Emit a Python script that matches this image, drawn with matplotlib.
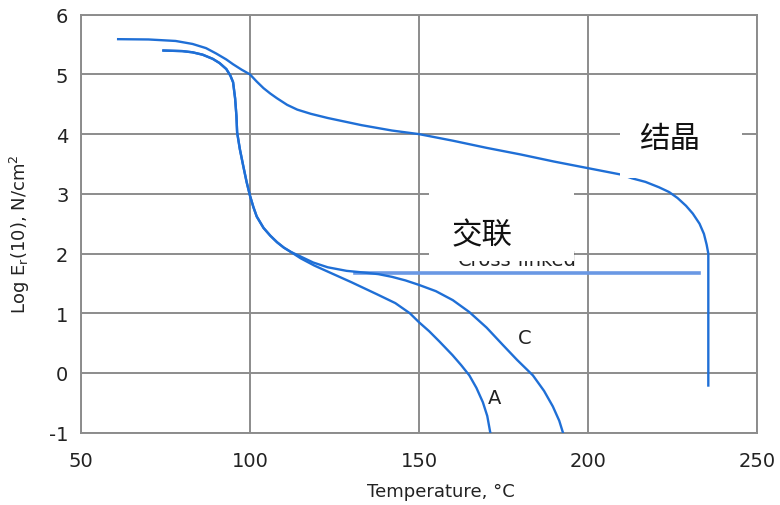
import matplotlib as mpl

mpl.use("Agg")
import matplotlib.pyplot as plt  # noqa: E402
from matplotlib.patches import Rectangle  # noqa: E402

plt.rcParams.update({
    "font.family": ["DejaVu Sans"],
    "font.size": 14,
    "axes.linewidth": 1.4,
    "axes.unicode_minus": False,
})

GRID = "#8c8c8c"
BLUE = "#1f6fd6"
LIGHT = "#6a98e4"
TEXT = "#222222"

# crystalline polymer (upper curve)
cryst_t = [61, 70, 78, 83, 87, 90, 93, 95, 97.5, 100, 102, 104, 106, 108, 111,
           114, 118, 123, 128, 133, 142, 150, 160, 170, 180, 190, 200, 210,
           213, 217, 221, 224, 226.5, 229, 231, 233, 234.3, 235.1, 235.6, 235.6]
cryst_e = [5.59, 5.585, 5.56, 5.51, 5.44, 5.35, 5.25, 5.17, 5.08, 5.00, 4.88,
           4.77, 4.68, 4.60, 4.49, 4.41, 4.34, 4.27, 4.21, 4.15, 4.06, 4.00,
           3.89, 3.77, 3.66, 3.54, 3.43, 3.32, 3.26, 3.20, 3.11, 3.03, 2.93,
           2.80, 2.67, 2.50, 2.33, 2.15, 2.00, -0.21]

# amorphous A
a_t = [74.4, 80, 83, 86, 89, 91, 93, 94.2, 95, 95.6, 96.0, 96.2, 97, 98, 99,
       100, 101, 102, 104, 106, 108, 110, 112, 115, 119, 123.7, 130, 137.5,
       143, 147.3, 150, 153, 156, 159.9, 162.5, 164.9, 167, 168.9, 170.2, 171.1]
a_e = [5.40, 5.39, 5.37, 5.33, 5.26, 5.19, 5.09, 4.98, 4.87, 4.60, 4.30, 4.03,
       3.75, 3.47, 3.20, 2.97, 2.78, 2.62, 2.43, 2.30, 2.19, 2.10, 2.03, 1.92,
       1.80, 1.68, 1.52, 1.32, 1.17, 1.00, 0.85, 0.70, 0.53, 0.30, 0.13, -0.04,
       -0.25, -0.49, -0.72, -1.00]

# amorphous C (shares the start of A up to ~112 °C)
c_t = [74.4, 80, 83, 86, 89, 91, 93, 94.2, 95, 95.6, 96.0, 96.2, 97, 98, 99,
       100, 101, 102, 104, 106, 108, 110, 112, 115, 118.7, 123, 128.6, 134,
       138, 142, 146, 150, 155, 160, 164.9, 170, 174.8, 179, 183.7, 187, 189.6,
       191.5, 192.6]
c_e = [5.40, 5.39, 5.37, 5.33, 5.26, 5.19, 5.09, 4.98, 4.87, 4.60, 4.30, 4.03,
       3.75, 3.47, 3.20, 2.97, 2.78, 2.62, 2.43, 2.30, 2.19, 2.10, 2.03, 1.95,
       1.85, 1.77, 1.71, 1.68, 1.655, 1.61, 1.55, 1.475, 1.37, 1.22, 1.02,
       0.76, 0.47, 0.22, -0.04, -0.30, -0.56, -0.80, -1.00]

# cross-linked plateau
xl_t = [131, 232.8]
xl_e = [1.67, 1.67]

x_ticks = [50, 100, 150, 200, 250]
y_ticks = [-1, 0, 1, 2, 3, 4, 5, 6]

fig = plt.figure(figsize=(7.8, 5.06), dpi=100)
ax = fig.add_axes([0.1038, 0.1429, 0.8667, 0.8261])

ax.plot(cryst_t, cryst_e, color=BLUE, lw=1.7, zorder=3)
ax.plot(a_t, a_e, color=BLUE, lw=1.7, zorder=3)
ax.plot(c_t, c_e, color=BLUE, lw=1.7, zorder=3)
ax.plot(xl_t, xl_e, color=LIGHT, lw=2.6, zorder=2.9)

ax.text(181.4, 0.59, "C", ha="center", va="center", color=TEXT, fontsize=14)
ax.text(172.3, -0.41, "A", ha="center", va="center", color=TEXT, fontsize=14)

# original English label, mostly covered by the pasted Chinese box
ax.text(161.5, 1.80, "Cross-linked", ha="left", va="baseline",
        color=TEXT, fontsize=14, zorder=4)
ax.add_patch(Rectangle((153.0, 1.87), 42.8, 1.43, facecolor="white",
                       edgecolor="none", zorder=5))
ax.add_patch(Rectangle((209.5, 3.26), 36.0, 1.34, facecolor="white",
                       edgecolor="none", zorder=5))
ax.text(168.6, 2.31, "交联", ha="center", va="center", fontsize=22,
        family=["Noto Sans CJK SC", "DejaVu Sans"], color="#111111",
        fontweight="light", zorder=6)
ax.text(224.2, 3.93, "结晶", ha="center", va="center", fontsize=22,
        family=["Noto Sans CJK SC", "DejaVu Sans"], color="#111111",
        fontweight="light", zorder=6)

ax.set_xlim(50, 250)
ax.set_ylim(-1, 6)
ax.set_xticks(x_ticks)
ax.set_yticks(y_ticks)
ax.grid(True, color=GRID, lw=1.4)
ax.set_axisbelow(True)
for sp in ax.spines.values():
    sp.set_color(GRID)
ax.tick_params(length=0, labelsize=14, labelcolor=TEXT)
ax.tick_params(axis="x", pad=13)
ax.tick_params(axis="y", pad=9)

ax.set_xlabel("Temperature, °C", fontsize=13, color=TEXT)
ax.xaxis.set_label_coords(0.533, -0.118)
ax.set_ylabel(r"Log E$_\mathregular{r}$(10), N/cm$^\mathregular{2}$",
              fontsize=13, color=TEXT)
ax.yaxis.set_label_coords(-0.072, 0.478)

fig.savefig("out.png", dpi=100)
